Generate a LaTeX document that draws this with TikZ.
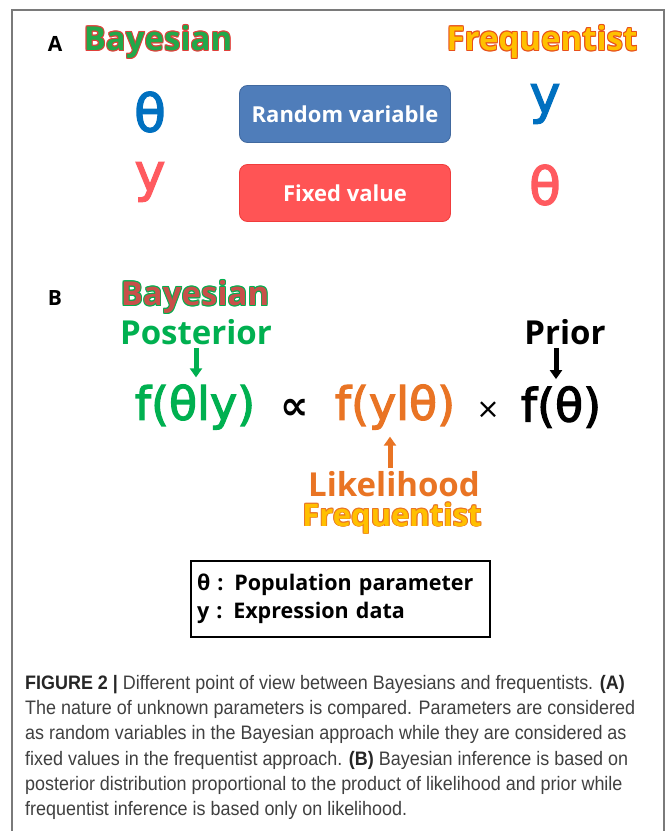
\documentclass[tikz,border=0pt]{standalone}
\usepackage{fontspec}
\usetikzlibrary{arrows.meta}
\newfontfamily\labf{Open Sans}
\newfontfamily\frmf[FakeBold=2.6]{DejaVu Sans}
\newfontfamily\symf[FakeBold=2.6]{DejaVu Sans}
\newfontfamily\plainf{DejaVu Sans}
\newfontfamily\capf[FakeStretch=0.92]{Liberation Sans}
\newcommand\fs[1]{\fontsize{#1bp}{#1bp}\selectfont}
\newcommand\fsl[2]{\fontsize{#1bp}{#2bp}\selectfont}
\definecolor{framegray}{HTML}{7A7A7A}
\definecolor{bgreen}{HTML}{22A84A}
\definecolor{bred}{HTML}{E0403A}
\definecolor{fyellow}{HTML}{FFC000}
\definecolor{forange}{HTML}{E8501A}
\definecolor{thblue}{HTML}{0070C0}
\definecolor{thred}{HTML}{FF5A5F}
\definecolor{boxblue}{HTML}{4F7DBA}
\definecolor{boxblueb}{HTML}{41699F}
\definecolor{boxred}{HTML}{FF5455}
\definecolor{boxredb}{HTML}{F03C3C}
\definecolor{fgreen}{HTML}{00B050}
\definecolor{ltorange}{HTML}{E97424}
\definecolor{bredfill}{HTML}{C8504A}
\definecolor{capgray}{HTML}{404040}
\newcommand\oc[3]{\makebox[0pt][l]{\kern#1\raisebox{#2}{#3}}}
\newcommand\olt[4][0.8bp]{{\color{#2}\oc{#1}{0bp}{#4}\oc{-#1}{0bp}{#4}\oc{0bp}{#1}{#4}\oc{0bp}{-#1}{#4}\oc{#1}{#1}{#4}\oc{-#1}{#1}{#4}\oc{#1}{-#1}{#4}\oc{-#1}{-#1}{#4}}{\color{#3}#4}}
\tikzset{
  txt/.style={inner sep=0pt},
  panel/.style={txt, font=\labf\bfseries\fs{21}},
  head/.style={txt, font=\labf\bfseries\fs{33}},
  sym/.style={txt, font=\symf\fs{52}},
  vbox/.style={rounded corners=8bp, minimum width=211bp, minimum height=57bp, text=white, font=\labf\bfseries\fs{22}, line width=0.8bp},
  frm/.style={txt, font=\frmf\fs{46}},
  barrow/.style={line width=5bp, -{Triangle[width=12bp,length=9bp]}},
}
\begin{document}
\begin{tikzpicture}[x=1bp,y=-1bp]
\useasboundingbox (0,0) rectangle (667,831);
\fill[white] (0,0) rectangle (667,831);
\draw[framegray, line width=1.2bp] (12,831) -- (12,10) -- (664,10) -- (664,831);
% Panel A
\node[panel] (A) at (55,44) {A};
\node[head] (bayA) at (158,42) {\olt{bred}{bgreen}{Bayesian}};
\node[head] (freqA) at (542,42) {\olt{forange}{fyellow}{Frequentist}};
\node[sym, text=thblue] (th1) at (150,112) {θ};
\node[vbox, fill=boxblue, draw=boxblueb] (rv) at (345,114) {Random variable};
\node[sym, text=thblue] (y1) at (545,104) {y};
\node[sym, text=thred] (y2) at (150,182) {y};
\node[vbox, fill=boxred, draw=boxredb] (fv) at (345,193) {Fixed value};
\node[sym, text=thred] (th2) at (545,185) {θ};
% Panel B
\node[panel] (B) at (55,298) {B};
\node[head] (bayB) at (195,297) {\olt{fgreen}{bredfill}{Bayesian}};
\node[head, text=fgreen] (post) at (196,332) {Posterior};
\node[head, text=black] (prior) at (565,332) {Prior};
\node[frm, text=fgreen] (fpost) at (195,407) {f(θly)};
\node[txt, font=\plainf\bfseries\fs{40}] (prop) at (295,409) {∝};
\node[frm, text=ltorange] (flik) at (395,407) {f(ylθ)};
\node[txt, font=\plainf\fs{28}] (times) at (488,410) {×};
\node[frm, text=black] (fpri) at (561,407) {f(θ)};
\node[head, text=ltorange] (lik) at (394,484) {Likelihood};
\node[head, font=\labf\bfseries\fs{31}] (freqB) at (392,518) {\olt{ltorange}{fyellow}{Frequentist}};
\draw[barrow, fgreen, shorten <=3bp, shorten >=7bp] (post.south) -- (post.south |- fpost.north);
\draw[barrow, black, shorten <=3bp, shorten >=7bp] ([xshift=-9bp]prior.south) -- ([xshift=-9bp]prior.south |- fpri.north);
\draw[barrow, ltorange, shorten <=3bp, shorten >=7bp] ([xshift=-4bp]lik.north) -- ([xshift=-4bp]lik.north |- flik.south);
% legend
\node[draw, line width=2bp, anchor=north west, minimum width=299bp, minimum height=76bp, inner xsep=6bp, text width=287bp, align=left, font=\labf\bfseries\fsl{21.5}{28}] (leg) at (190,560) {θ : Population parameter\\y : Expression data};
% caption
\node[txt, anchor=north west, align=left, text=capgray, font=\capf\fsl{19.5}{25.3}] (cap) at (25,675) {{\bfseries\color{black!85}FIGURE 2 | }Different point of view between Bayesians and frequentists. {\bfseries\color{black!85}(A)}\\
The nature of unknown parameters is compared. Parameters are considered\\
as random variables in the Bayesian approach while they are considered as\\
fixed values in the frequentist approach. {\bfseries\color{black!85}(B)} Bayesian inference is based on\\
posterior distribution proportional to the product of likelihood and prior while\\
frequentist inference is based only on likelihood.};
\end{tikzpicture}
\end{document}
